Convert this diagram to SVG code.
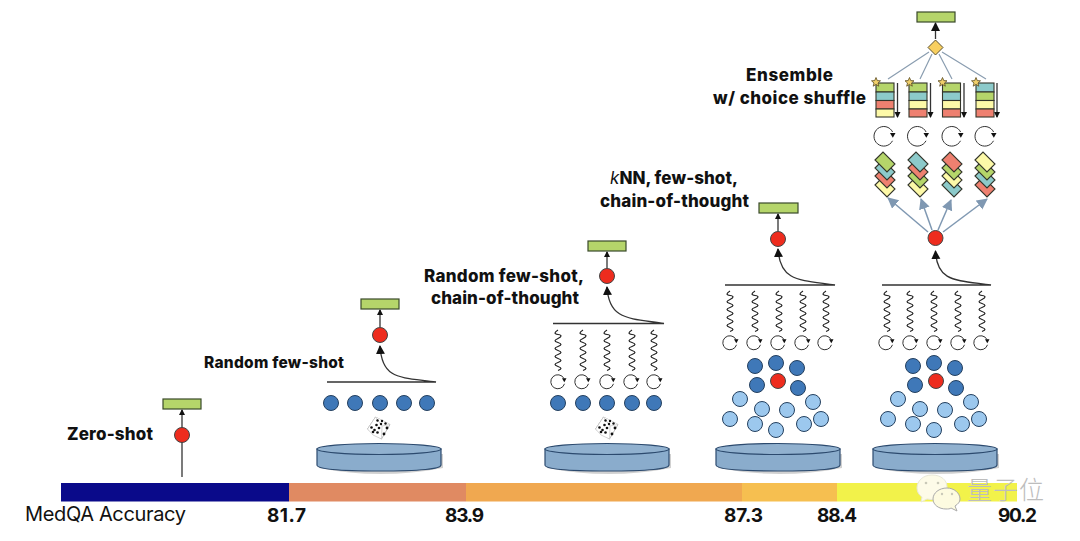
<svg xmlns="http://www.w3.org/2000/svg" width="1080" height="541" viewBox="0 0 1080 541">
<style>
text{font-family:Inter,"Liberation Sans",Arial,sans-serif;fill:#111}
.lb{font-weight:800;font-size:17px}
.num{font-weight:700;font-size:19px}
.out{fill:#b5d56a;stroke:#3a4a2a;stroke-width:1.200}
.red{fill:#ee2c1e;stroke:#444;stroke-width:1}
.dk{fill:#3f78b8;stroke:#24405f;stroke-width:1}
.lt{fill:#9cc8ee;stroke:#24405f;stroke-width:1}
.k{fill:none;stroke:#333;stroke-width:1.300}
.bl{fill:none;stroke:#7f98b2;stroke-width:1.500}
.gl{fill:none;stroke:#8a9db0;stroke-width:1.200}
.g{fill:#b5d56a}.t{fill:#8ccaca}.r{fill:#ee8070}.y{fill:#fdf9a8}
.g,.t,.r,.y{stroke:#33352a;stroke-width:1.100}
</style>
<defs>
<marker id="ah" markerWidth="10" markerHeight="10" refX="8" refY="4.500" orient="auto" markerUnits="userSpaceOnUse"><path d="M0 0L9 4.500L0 9Z" fill="#111"/></marker>
<marker id="sh" markerWidth="7" markerHeight="7" refX="5" refY="3" orient="auto" markerUnits="userSpaceOnUse"><path d="M0 0L6 3L0 6Z" fill="#111"/></marker>
<marker id="ab" markerWidth="13" markerHeight="12" refX="10" refY="5.500" orient="auto" markerUnits="userSpaceOnUse"><path d="M0 0L11 5.500L0 11Z" fill="#7f98b2"/></marker>
<path id="sq" d="M0 0c-4 2.500-4 4 0 4.500s4 2 0 4-4 2.500 0 4 4 2.500 0 4-4 2.500 0 4 4 2.500 0 4-4 2.500 0 4 4 2.500 0 4-4 2.500 0 4 4 2.500 0 4" fill="none" stroke="#222" stroke-width="1.200"/>
<g id="lp"><path d="M6 -2.500A7 7 0 1 0 6.500 2.800" fill="none" stroke="#333" stroke-width="1"/><path d="M4 -2.800L8.500 -2.800L6.300 1.200Z" fill="#111"/></g>
<g id="lpb"><path d="M8.600 -4A9.800 9.800 0 1 0 8.500 4.800" fill="none" stroke="#333" stroke-width="1"/><path d="M6 -3L11.500 -3L8.800 1.800Z" fill="#111"/></g>
<g id="disk"><path d="M1 8V22Q62 34 125 22V8Z" fill="#666" opacity=".3" transform="translate(1 2)"/><path d="M0 5V21Q0 27 62 27T124 21V5Z" fill="#8aaccc" stroke="#2c4a6e" stroke-width="1.200"/><ellipse cx="62" cy="5" rx="62" ry="5.500" fill="#91b1cf" stroke="#2c4a6e" stroke-width="1.200"/></g>
<g id="dice"><path d="M-3.500 -11L11 -3.500L2.500 11L-11.500 1Z" fill="#fff" stroke="#aaa" stroke-width=".8" stroke-linejoin="round"/><path d="M-3.500 -11L-11.500 1L-6 7L2.500 11L3 -2L11 -3.500M3 -2L-3.500 -11" fill="#fff" stroke="#bbb" stroke-width=".6"/><g fill="#111"><circle cx="-7.500" cy="-0.500" r="1.300"/><circle cx="-4.500" cy="2" r="1.300"/><circle cx="-1.500" cy="4.500" r="1.300"/><circle cx="-6" cy="4" r="1.300"/><circle cx="-2.500" cy="-3" r="1.300"/><circle cx="0" cy="0" r="1.300"/><circle cx="-1.500" cy="-7.500" r="1.200"/><circle cx="3" cy="-7" r="1.200"/><circle cx="2" cy="-4" r="1.200"/><circle cx="6.500" cy="-4.500" r="1.200"/><circle cx="5" cy="6" r="1.400"/><circle cx="8" cy="0" r="1.400"/></g></g>
<g id="card"><polygon points="-10,-2 -2,-10 10,2 2,10"/></g>
<path id="star" d="M0 -4.500L1.300 -1.400L4.500 -1.200L2 1L2.800 4.200L0 2.400L-2.800 4.200L-2 1L-4.500 -1.200L-1.300 -1.400Z" fill="#f0cf6a" stroke="#5a4a20" stroke-width=".8"/>
</defs>
<rect width="1080" height="541" fill="#fff"/>
<g id="accuracy-bar">
<rect x="61" y="483" width="228" height="18.500" fill="#0a0a8a"/>
<rect x="289" y="483" width="177" height="18.500" fill="#e08a62"/>
<rect x="466" y="483" width="276" height="18.500" fill="#f0a850"/>
<rect x="742" y="483" width="95" height="18.500" fill="#f6bf50"/>
<rect x="837" y="483" width="180" height="18.500" fill="#f2f24a"/>
<text x="25" y="521" style="font-size:20px" textLength="161">MedQA Accuracy</text>
<text class="num" x="267" y="522" textLength="39">81.7</text>
<text class="num" x="445" y="522" textLength="39">83.9</text>
<text class="num" x="724" y="522" textLength="39">87.3</text>
<text class="num" x="817" y="522" textLength="40">88.4</text>
<text class="num" x="998" y="522" textLength="39">90.2</text>
</g>
<g id="connectors">
<path class="k" d="M182 477V410" marker-end="url(#sh)"/>
<path class="k" d="M380 327V310" marker-end="url(#sh)"/>
<path class="k" d="M327 382H436C400 377 382 380 380 346" marker-end="url(#ah)"/>
<path class="k" d="M607 268V252" marker-end="url(#sh)"/>
<path class="k" d="M553 323.500H664C628 318 609 320 607 287" marker-end="url(#ah)"/>
<path class="k" d="M778 231V214" marker-end="url(#sh)"/>
<path class="k" d="M725 285H835C800 280 780 282 778 249" marker-end="url(#ah)"/>
<path class="k" d="M882 285H991C955 280 937 282 935.500 251" marker-end="url(#ah)"/>
<path class="k" d="M935.500 39V23" marker-end="url(#ah)"/>
<path class="gl" d="M929 52L888 79M932 54L920 79M939 54L952 79M942 52L986 79"/>
<path class="bl" d="M928 232L888 198" marker-end="url(#ab)"/>
<path class="bl" d="M932 230L921 199" marker-end="url(#ab)"/>
<path class="bl" d="M938 230L951 200" marker-end="url(#ab)"/>
<path class="bl" d="M943 232L987 199" marker-end="url(#ab)"/>
<path class="k" d="M897.500 83V117" marker-end="url(#sh)"/>
<path class="k" d="M930.500 83V117" marker-end="url(#sh)"/>
<path class="k" d="M964 83V117" marker-end="url(#sh)"/>
<path class="k" d="M997 83V117" marker-end="url(#sh)"/>
</g>
<g id="zero-shot">
<text class="lb" x="67" y="440" textLength="86">Zero-shot</text>
<rect class="out" x="163" y="399" width="38" height="10"/>
<circle class="red" cx="182" cy="435" r="7.500"/>
</g>
<g id="random-few-shot">
<text class="lb" x="204" y="368" textLength="140" style="font-size:15.500px">Random few-shot</text>
<rect class="out" x="361" y="299" width="38" height="10"/>
<circle class="red" cx="380" cy="335" r="7.500"/>
<circle class="dk" cx="331" cy="403" r="7.500"/><circle class="dk" cx="355" cy="403" r="7.500"/><circle class="dk" cx="380" cy="403" r="7.500"/><circle class="dk" cx="404" cy="403" r="7.500"/><circle class="dk" cx="427" cy="403" r="7.500"/>
<use href="#dice" x="379" y="428"/>
<use href="#disk" x="317" y="444"/>
</g>
<g id="random-few-shot-cot">
<text class="lb" x="424" y="282" textLength="160">Random few-shot,</text>
<text class="lb" x="431" y="304" textLength="148">chain-of-thought</text>
<rect class="out" x="588" y="241" width="38" height="10"/>
<circle class="red" cx="607" cy="276" r="7.500"/>
<use href="#sq" x="558" y="330"/><use href="#sq" x="583" y="330"/><use href="#sq" x="607" y="330"/><use href="#sq" x="632" y="330"/><use href="#sq" x="654" y="330"/>
<use href="#lp" x="558" y="381"/><use href="#lp" x="582" y="381"/><use href="#lp" x="607" y="381"/><use href="#lp" x="631" y="381"/><use href="#lp" x="654" y="381"/>
<circle class="dk" cx="558" cy="403" r="7.500"/><circle class="dk" cx="583" cy="403" r="7.500"/><circle class="dk" cx="607" cy="403" r="7.500"/><circle class="dk" cx="632" cy="403" r="7.500"/><circle class="dk" cx="654" cy="403" r="7.500"/>
<use href="#dice" x="607" y="428"/>
<use href="#disk" x="545" y="444"/>
</g>
<g id="knn-few-shot-cot">
<text class="lb" x="610" y="184" textLength="128"><tspan font-style="italic" font-weight="400">k</tspan>NN, few-shot,</text>
<text class="lb" x="600" y="207" textLength="149">chain-of-thought</text>
<rect class="out" x="759" y="203" width="39" height="10"/>
<circle class="red" cx="778" cy="239" r="7.500"/>
<use href="#sq" x="730" y="291"/><use href="#sq" x="755" y="291"/><use href="#sq" x="779" y="291"/><use href="#sq" x="803" y="291"/><use href="#sq" x="826" y="291"/>
<use href="#lp" x="730" y="342"/><use href="#lp" x="754" y="342"/><use href="#lp" x="778" y="342"/><use href="#lp" x="802" y="342"/><use href="#lp" x="825" y="342"/>
<circle class="dk" cx="755" cy="366" r="7.500"/><circle class="dk" cx="776" cy="363" r="7.500"/><circle class="dk" cx="797" cy="368" r="7.500"/><circle class="dk" cx="757" cy="385" r="7.500"/><circle class="dk" cx="798" cy="388" r="7.500"/>
<circle class="red" cx="778" cy="381" r="7.500"/>
<circle class="lt" cx="740" cy="399" r="7.500"/><circle class="lt" cx="762" cy="409" r="7.500"/><circle class="lt" cx="787" cy="410" r="7.500"/><circle class="lt" cx="813" cy="402" r="7.500"/><circle class="lt" cx="730" cy="419" r="7.500"/><circle class="lt" cx="755" cy="424" r="7.500"/><circle class="lt" cx="776" cy="430" r="7.500"/><circle class="lt" cx="804" cy="424" r="7.500"/><circle class="lt" cx="821" cy="419" r="7.500"/>
<use href="#disk" x="716" y="444"/>
</g>
<g id="ensemble">
<text class="lb" x="746" y="81" textLength="87">Ensemble</text>
<text class="lb" x="713" y="104" textLength="153">w/ choice shuffle</text>
<rect class="out" x="917" y="12" width="38" height="10"/>
<polygon points="935.500,40 943,47.500 935.500,55 928,47.500" fill="#f8cf60" stroke="#5a5030" stroke-width="1"/>
<g id="list-1"><rect class="g" x="876" y="83" width="18" height="9"/><rect class="t" x="876" y="92" width="18" height="8.500"/><rect class="r" x="876" y="100.500" width="18" height="8.500"/><rect class="y" x="876" y="109" width="18" height="8"/></g>
<g id="list-2"><rect class="g" x="909" y="83" width="18" height="9"/><rect class="t" x="909" y="92" width="18" height="8.500"/><rect class="y" x="909" y="100.500" width="18" height="8.500"/><rect class="r" x="909" y="109" width="18" height="8"/></g>
<g id="list-3"><rect class="g" x="942.500" y="83" width="18" height="9"/><rect class="t" x="942.500" y="92" width="18" height="8.500"/><rect class="y" x="942.500" y="100.500" width="18" height="8.500"/><rect class="r" x="942.500" y="109" width="18" height="8"/></g>
<g id="list-4"><rect class="t" x="976" y="83" width="18" height="9"/><rect class="g" x="976" y="92" width="18" height="8.500"/><rect class="y" x="976" y="100.500" width="18" height="8.500"/><rect class="r" x="976" y="109" width="18" height="8"/></g>
<use href="#star" x="876" y="82"/><use href="#star" x="909.500" y="82"/><use href="#star" x="942.500" y="82"/><use href="#star" x="976" y="82"/>
<use href="#lpb" x="884" y="136"/><use href="#lpb" x="917.500" y="136"/><use href="#lpb" x="952" y="136"/><use href="#lpb" x="985" y="136"/>
<g id="stack-1"><use href="#card" class="y" x="885" y="187"/><use href="#card" class="r" x="885" y="178"/><use href="#card" class="t" x="885" y="170"/><use href="#card" class="g" x="885" y="162"/></g>
<g id="stack-2"><use href="#card" class="y" x="918" y="187"/><use href="#card" class="g" x="918" y="178"/><use href="#card" class="r" x="918" y="170"/><use href="#card" class="t" x="918" y="162"/></g>
<g id="stack-3"><use href="#card" class="t" x="952" y="187"/><use href="#card" class="y" x="952" y="178"/><use href="#card" class="g" x="952" y="170"/><use href="#card" class="r" x="952" y="162"/></g>
<g id="stack-4"><use href="#card" class="r" x="985" y="187"/><use href="#card" class="t" x="985" y="178"/><use href="#card" class="g" x="985" y="170"/><use href="#card" class="y" x="985" y="162"/></g>
<circle class="red" cx="935.500" cy="238" r="7.500"/>
<use href="#sq" x="887" y="291"/><use href="#sq" x="910" y="291"/><use href="#sq" x="934" y="291"/><use href="#sq" x="958" y="291"/><use href="#sq" x="982" y="291"/>
<use href="#lp" x="886" y="342"/><use href="#lp" x="910" y="342"/><use href="#lp" x="934" y="342"/><use href="#lp" x="958" y="342"/><use href="#lp" x="981" y="342"/>
<circle class="dk" cx="913" cy="366" r="7.500"/><circle class="dk" cx="934" cy="363" r="7.500"/><circle class="dk" cx="955" cy="368" r="7.500"/><circle class="dk" cx="915" cy="385" r="7.500"/><circle class="dk" cx="956" cy="388" r="7.500"/>
<circle class="red" cx="936" cy="381" r="7.500"/>
<circle class="lt" cx="898" cy="399" r="7.500"/><circle class="lt" cx="920" cy="409" r="7.500"/><circle class="lt" cx="945" cy="410" r="7.500"/><circle class="lt" cx="971" cy="402" r="7.500"/><circle class="lt" cx="888" cy="419" r="7.500"/><circle class="lt" cx="913" cy="424" r="7.500"/><circle class="lt" cx="934" cy="430" r="7.500"/><circle class="lt" cx="962" cy="424" r="7.500"/><circle class="lt" cx="979" cy="419" r="7.500"/>
<use href="#disk" x="873" y="444"/>
</g>
<g id="watermark">
<path d="M932 475C923 475 917 481 917 488C917 492 919 495 922 497L921 502L927 499L935 500C944 499 947 492 947 487C947 480 941 475 932 475Z" fill="#fdfbe8" stroke="#e8e8d8" stroke-width="1"/>
<path d="M947 488C939 488 933 493 933 499C933 505 939 509 946 509C948 509 950 509 951 508L957 511L955 506C958 504 960 502 960 499C960 493 954 488 947 488Z" fill="#fdfbe0" stroke="#aaa" stroke-width="1"/>
<g fill="#c9c9b8"><circle cx="926" cy="483" r="1.300"/><circle cx="938" cy="483" r="1.300"/><circle cx="942" cy="494" r="1.200"/><circle cx="952" cy="494" r="1.200"/></g>
<text x="967" y="499" style="font-family:'Noto Sans CJK SC','Liberation Sans',sans-serif;font-size:25px;font-weight:300;fill:#bdbdbd" textLength="77">量子位</text>
</g>
</svg>
